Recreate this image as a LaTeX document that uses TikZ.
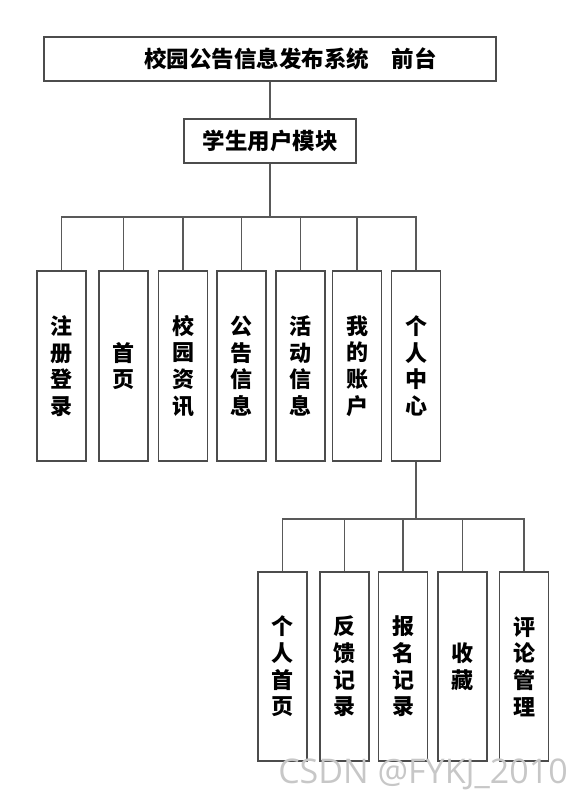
\documentclass[tikz,border=0pt]{standalone}
\usepackage{fontspec}
\newfontfamily\cjk{Noto Sans CJK SC}
\newfontfamily\markfont{Open Sans}
\usepackage{tikz}

\begin{document}
\begin{tikzpicture}[x=1pt,y=1pt]
\tikzstyle{every node}+=[inner sep=0pt]
\tikzstyle{box}=[draw=black!70, line width=1.2pt, rectangle]
\tikzstyle{wide}=[box, minimum height=44pt, font=\cjk\bfseries\fontsize{22.5}{26}\selectfont]
\tikzstyle{tall}=[box, minimum width=49pt, align=center, font=\cjk\bfseries\fontsize{22}{26.7}\selectfont]
\tikzstyle{link}=[draw=black!65, line width=1.1pt]
\useasboundingbox (0,0) rectangle (588,-802);
\node [wide, minimum width=452pt] (sys) at (270,-59) {\hspace*{41pt}校园公告信息发布系统\hspace{1em}前台};
\node [wide, minimum width=172pt] (stu) at (270,-141) {学生用户模块};
\node [tall, minimum height=190pt] (reg) at (61.5,-366) {注\\册\\登\\录};
\node [tall, minimum height=190pt] (home) at (123.5,-366) {首\\页};
\node [tall, minimum height=190pt] (news) at (183,-366) {校\\园\\资\\讯};
\node [tall, minimum height=190pt] (notice) at (241.5,-366) {公\\告\\信\\息};
\node [tall, minimum height=190pt] (event) at (300.5,-366) {活\\动\\信\\息};
\node [tall, minimum height=190pt] (acct) at (357,-366) {我\\的\\账\\户};
\node [tall, minimum height=190pt] (center) at (416,-366) {个\\人\\中\\心};
\node [tall, minimum height=189pt] (phome) at (282.5,-666.5) {个\\人\\首\\页};
\node [tall, minimum height=189pt] (fback) at (344.5,-666.5) {反\\馈\\记\\录};
\node [tall, minimum height=189pt] (signup) at (403,-666.5) {报\\名\\记\\录};
\node [tall, minimum height=189pt] (fav) at (462.5,-666.5) {收\\藏};
\node [tall, minimum height=189pt] (cmt) at (524,-666.5) {评\\论\\管\\理};
\coordinate (bus1) at (270,-217);
\coordinate (bus2) at (416,-519);
\draw [link] (sys) -- (stu);
\draw [link] (stu.south) -- (bus1);
\draw [link] (bus1) -| (reg.north);
\draw [link] (bus1) -| (home.north);
\draw [link] (bus1) -| (news.north);
\draw [link] (bus1) -| (notice.north);
\draw [link] (bus1) -| (event.north);
\draw [link] (bus1) -| (acct.north);
\draw [link] (bus1) -| (center.north);
\draw [link] (center.south) -- (bus2);
\draw [link] (bus2) -| (phome.north);
\draw [link] (bus2) -| (fback.north);
\draw [link] (bus2) -| (signup.north);
\draw [link] (bus2) -| (fav.north);
\draw [link] (bus2) -| (cmt.north);
\node [text=black!22, font=\markfont\fontsize{34}{38}\selectfont] (mark) at (423,-774) {CSDN @FYKJ\_2010};
\end{tikzpicture}
\end{document}
